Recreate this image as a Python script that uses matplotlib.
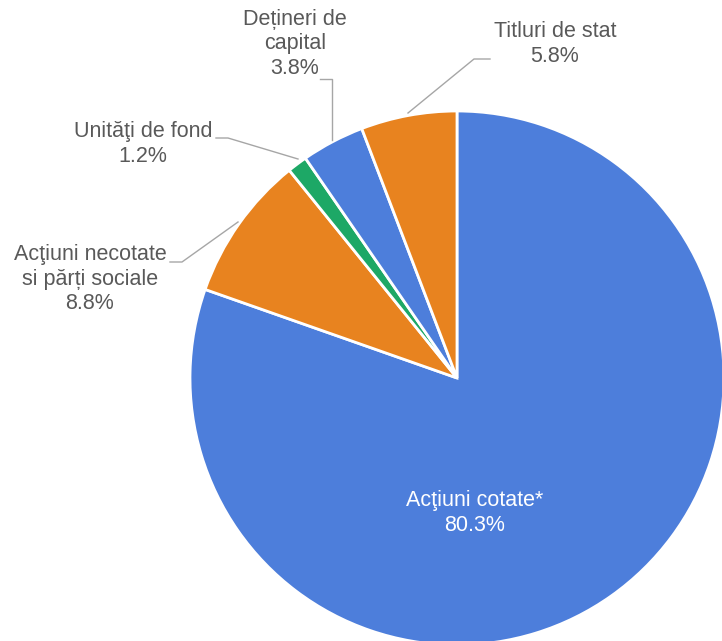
import matplotlib.pyplot as plt

# Portfolio structure data
labels = ["Acţiuni cotate*", "Acţiuni necotate\nsi părți sociale", "Unităţi de fond",
          "Dețineri de\ncapital", "Titluri de stat"]
shares = [80.3, 8.8, 1.2, 3.8, 5.8]
colors = ["#4D7EDB", "#E8831F", "#1DA866", "#4D7EDB", "#E8831F"]

plt.rcParams['font.family'] = ['Liberation Sans', 'DejaVu Sans']

W, H = 722, 641
fig = plt.figure(figsize=(W / 100, H / 100), dpi=100)
ax = fig.add_axes([0, 0, 1, 1])

# pie in pixel coordinates (y flipped so up is positive)
cx, cy, r = 457, H - 378, 267
ax.pie(shares, colors=colors, startangle=90, counterclock=False,
       center=(cx, cy), radius=r, frame=True,
       wedgeprops=dict(edgecolor="white", linewidth=2))
ax.set_xlim(0, W)
ax.set_ylim(0, H)
ax.set_aspect("equal")
ax.axis("off")

grey = "#595959"
line_c = "#A6A6A6"

# label positions (pixel centres) and leader lines
label_pos = [(475, 513), (90, 279), (143, 144), (295, 44), (555, 44)]
leaders = [
    None,
    [(238, 222), (182, 262), (170, 262)],
    [(298, 159), (228, 138), (216, 138)],
    [(332, 140), (332, 79), (320, 79)],
    [(408, 113), (474, 59), (490, 59)],
]

for lab, val, (x, y), ld in zip(labels, shares, label_pos, leaders):
    txt = f"{lab}\n{val:.1f}%"
    col = "white" if ld is None else grey
    ax.text(x, H - y, txt, ha="center", va="center", fontsize=15.5,
            color=col, linespacing=1.22, multialignment="center")
    if ld is not None:
        xs = [p[0] for p in ld]
        ys = [H - p[1] for p in ld]
        ax.plot(xs, ys, color=line_c, linewidth=1)

fig.savefig("out.png", dpi=100)
